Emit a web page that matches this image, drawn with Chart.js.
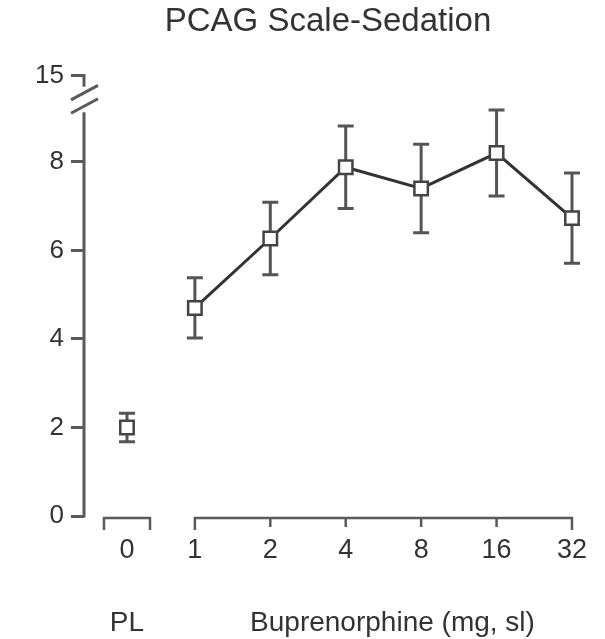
<!DOCTYPE html>
<html>
<head>
<meta charset="utf-8">
<title>PCAG Scale-Sedation</title>
<script src="https://cdn.jsdelivr.net/npm/chart.js@4/dist/chart.umd.min.js"></script>
<style>
  html, body { margin: 0; padding: 0; background: #fff; }
  #wrap { width: 605px; height: 639px; }
</style>
</head>
<body>
<div id="wrap"><canvas id="chart" width="605" height="639"></canvas></div>
<script>
// placebo
const plPos = [-0.9]
const plMean = [2.0]
const plErr = [0.32]

// buprenorphine doses (mg, sl), evenly spaced on x
const doseLabels = ['1', '2', '4', '8', '16', '32']
const bupMean = [4.7, 6.27, 7.88, 7.4, 8.2, 6.73]
const bupErr = [0.68, 0.82, 0.93, 1.0, 0.97, 1.02]

const xTickValues = [-0.9, 0, 1, 2, 3, 4, 5]
const xTickLabels = ['0'].concat(doseLabels)
const yTickValues = [0, 2, 4, 6, 8, 9.95]
const yTickLabels = ['0', '2', '4', '6', '8', '15']

const ink = '#333'
const axisGray = '#5a5a5a'
const font = 'Liberation Sans, Arial, Helvetica, sans-serif'

const plData = plPos.map((x, i) => ({ x: x, y: plMean[i], err: plErr[i] }))
const bupData = doseLabels.map((d, i) => ({ x: i, y: bupMean[i], err: bupErr[i] }))

// axes drawn by hand: broken y axis and bracket-style x axis
const axisArt = {
    id: 'axisArt',
    beforeDatasetsDraw(chart) {
        const ctx = chart.ctx
        const xs = chart.scales.x
        const ys = chart.scales.y
        const ax = chart.chartArea.left
        ctx.save()
        ctx.strokeStyle = axisGray
        ctx.lineWidth = 3
        ctx.lineCap = 'butt'

        // y axis, lower part
        ctx.beginPath()
        ctx.moveTo(ax, ys.getPixelForValue(0) + 1.5)
        ctx.lineTo(ax, ys.getPixelForValue(9.12))
        // upper stub under the 15 tick
        ctx.moveTo(ax, ys.getPixelForValue(9.95) - 1.5)
        ctx.lineTo(ax, ys.getPixelForValue(9.7))
        ctx.stroke()

        // break marks
        ;[9.57, 9.27].forEach(v => {
            const cy = ys.getPixelForValue(v)
            ctx.beginPath()
            ctx.moveTo(ax - 13, cy + 7.5)
            ctx.lineTo(ax + 14, cy - 7)
            ctx.stroke()
        })

        // x brackets
        const by = ys.getPixelForValue(0) + 2
        ctx.lineWidth = 2.5
        const px = xs.getPixelForValue(plPos[0])
        ctx.beginPath()
        ctx.moveTo(px - 23, by + 12)
        ctx.lineTo(px - 23, by)
        ctx.lineTo(px + 23, by)
        ctx.lineTo(px + 23, by + 12)
        ctx.stroke()

        const x0 = xs.getPixelForValue(0)
        const x1 = xs.getPixelForValue(doseLabels.length - 1)
        ctx.beginPath()
        ctx.moveTo(x0, by + 12)
        ctx.lineTo(x0, by)
        ctx.lineTo(x1, by)
        ctx.lineTo(x1, by + 12)
        for (let i = 1; i < doseLabels.length - 1; i++) {
            const tx = xs.getPixelForValue(i)
            ctx.moveTo(tx, by)
            ctx.lineTo(tx, by + 9)
        }
        ctx.stroke()

        // error bars, under the markers
        ctx.strokeStyle = '#555'
        ctx.lineWidth = 3
        plData.concat(bupData).forEach(p => {
            const cx = xs.getPixelForValue(p.x)
            const top = ys.getPixelForValue(p.y + p.err)
            const bot = ys.getPixelForValue(p.y - p.err)
            ctx.beginPath()
            ctx.moveTo(cx, top)
            ctx.lineTo(cx, bot)
            ctx.moveTo(cx - 8, top)
            ctx.lineTo(cx + 8, top)
            ctx.moveTo(cx - 8, bot)
            ctx.lineTo(cx + 8, bot)
            ctx.stroke()
        })
        ctx.restore()
    },
    afterDraw(chart) {
        const ctx = chart.ctx
        const xs = chart.scales.x
        ctx.save()
        ctx.fillStyle = ink
        ctx.font = '28px ' + font
        ctx.textAlign = 'center'
        ctx.textBaseline = 'middle'
        ctx.fillText('PL', xs.getPixelForValue(plPos[0]), 623)
        ctx.fillText('Buprenorphine (mg, sl)', xs.getPixelForValue(2.62), 623)
        ctx.restore()
    }
}

const ctx = document.getElementById('chart').getContext('2d')
const myChart = new Chart(ctx, {
    type: 'line',
    data: {
        datasets: [{
            label: 'PL',
            data: plData,
            showLine: false,
            pointStyle: 'rect',
            pointRadius: 9.5,
            pointBorderWidth: 2.5,
            pointBackgroundColor: '#fff',
            pointBorderColor: '#444'
        },
        {
            label: 'Buprenorphine',
            data: bupData,
            borderColor: '#333',
            borderWidth: 3,
            pointStyle: 'rect',
            pointRadius: 9.5,
            pointBorderWidth: 2.5,
            pointBackgroundColor: '#fff',
            pointBorderColor: '#444'
        }]
    },
    options: {
        responsive: false,
        animation: false,
        clip: false,
        layout: { padding: { left: 0, right: 28, top: 0, bottom: 0 } },
        plugins: {
            legend: { display: false },
            tooltip: { enabled: false },
            title: {
                display: true,
                text: 'PCAG Scale-Sedation',
                fullSize: false,
                color: ink,
                font: { family: font, size: 33, weight: 'normal' },
                padding: { top: 2, bottom: 34 }
            }
        },
        scales: {
            x: {
                type: 'linear',
                min: -1.47,
                max: 5,
                afterBuildTicks: scale => { scale.ticks = xTickValues.map(v => ({ value: v })) },
                afterFit: scale => { scale.height = 123 },
                grid: { display: false, drawTicks: false },
                border: { display: false },
                ticks: {
                    padding: 18,
                    color: ink,
                    font: { family: font, size: 27 },
                    maxRotation: 0,
                    autoSkip: false,
                    callback: (value, index) => xTickLabels[index]
                }
            },
            y: {
                min: 0,
                max: 9.95,
                afterBuildTicks: scale => { scale.ticks = yTickValues.map(v => ({ value: v })) },
                afterFit: scale => { scale.width = 84 },
                grid: {
                    drawOnChartArea: false,
                    drawTicks: true,
                    tickLength: 13,
                    color: axisGray,
                    lineWidth: 3
                },
                border: { display: false },
                ticks: {
                    padding: 7,
                    color: ink,
                    font: { family: font, size: 26 },
                    autoSkip: false,
                    callback: (value, index) => yTickLabels[index]
                }
            }
        }
    },
    plugins: [axisArt]
})
</script>
</body>
</html>
